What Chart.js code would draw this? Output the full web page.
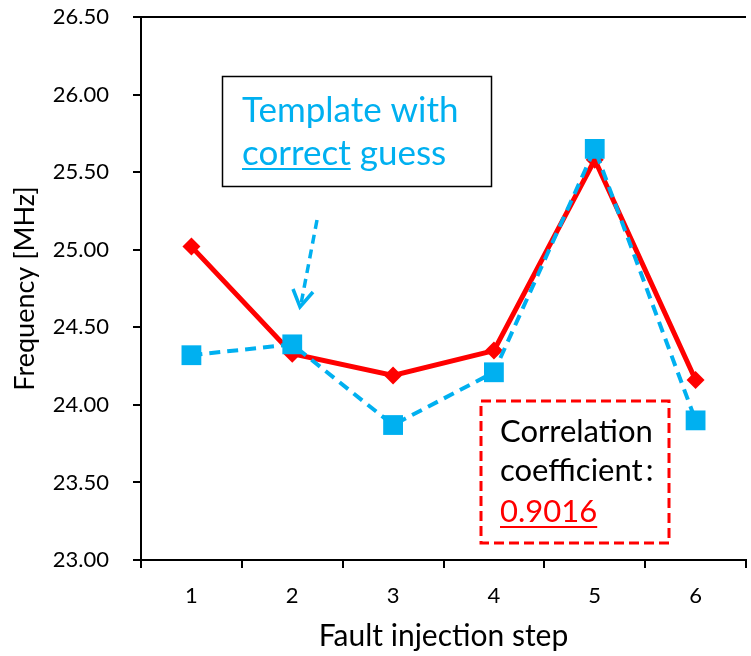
<!DOCTYPE html>
<html lang="en">
<head>
  <meta charset="UTF-8">
  <title>Fault injection frequency</title>
  <script src="https://cdn.jsdelivr.net/npm/chart.js"></script>
  <style>
    html, body { margin: 0; padding: 0; background: #fff; overflow: hidden; }
  </style>
</head>
<body>
  <canvas id="chart" width="760" height="656"></canvas>

  <script>
    const steps = ['1', '2', '3', '4', '5', '6'];
    const measured = [25.02, 24.33, 24.19, 24.35, 25.58, 24.16];
    const template = [24.32, 24.39, 23.87, 24.21, 25.65, 23.90];
    const yTicks = [23.0, 23.5, 24.0, 24.5, 25.0, 25.5, 26.0, 26.5];

    const RED = '#ff0000';
    const BLUE = '#00b0f0';
    const FONT = 'Lato, "Open Sans", sans-serif';

    // boxes, arrow and top frame line
    const notes = {
      id: 'notes',
      afterDraw(c) {
        const ctx = c.ctx;
        const a = c.chartArea;
        ctx.save();

        ctx.strokeStyle = '#000';
        ctx.lineWidth = 2;
        ctx.beginPath();
        ctx.moveTo(a.left, a.top);
        ctx.lineTo(a.right, a.top);
        ctx.stroke();

        // template box
        ctx.lineWidth = 1.5;
        ctx.strokeRect(222.5, 76.5, 269, 110);
        ctx.fillStyle = BLUE;
        ctx.font = '35px ' + FONT;
        ctx.textBaseline = 'alphabetic';
        ctx.fillText('Template with', 242, 122);
        ctx.fillText('correct', 242, 165);
        const cw = ctx.measureText('correct').width;
        ctx.fillText(' guess', 242 + cw, 165);
        ctx.fillRect(242, 168, cw, 2);

        // arrow
        ctx.strokeStyle = BLUE;
        ctx.lineWidth = 3.5;
        ctx.setLineDash([9, 6]);
        ctx.beginPath();
        ctx.moveTo(317, 220);
        ctx.lineTo(301, 304);
        ctx.stroke();
        ctx.setLineDash([]);
        ctx.beginPath();
        ctx.moveTo(293, 289);
        ctx.lineTo(300, 307);
        ctx.lineTo(313, 292);
        ctx.stroke();

        // correlation box
        ctx.strokeStyle = RED;
        ctx.lineWidth = 3;
        ctx.setLineDash([10, 5]);
        ctx.strokeRect(481, 401, 188, 142);
        ctx.setLineDash([]);
        ctx.fillStyle = '#000';
        ctx.font = '31px ' + FONT;
        ctx.fillText('Correlation', 500, 442);
        ctx.fillText('coefficient', 500, 481);
        ctx.fillText(':', 500 + ctx.measureText('coefficient').width + 3, 481);
        ctx.fillStyle = RED;
        ctx.fillText('0.9016', 500, 522);
        const vw = ctx.measureText('0.9016').width;
        ctx.fillRect(500, 526, vw, 2);

        ctx.restore();
      }
    };

    new Chart(document.getElementById('chart'), {
      type: 'line',
      data: {
        labels: steps,
        datasets: [
          {
            label: 'Measured',
            data: measured,
            borderColor: RED,
            backgroundColor: RED,
            borderWidth: 5,
            pointStyle: 'rectRot',
            pointRadius: 9,
            pointBorderWidth: 0,
            tension: 0,
            order: 1
          },
          {
            label: 'Template',
            data: template,
            borderColor: BLUE,
            backgroundColor: BLUE,
            borderWidth: 4,
            borderDash: [11, 7],
            pointStyle: 'rect',
            pointRadius: 14,
            pointBorderWidth: 0,
            tension: 0,
            order: 0
          }
        ]
      },
      options: {
        responsive: false,
        animation: false,
        layout: { padding: { top: 17, right: 1, left: 0, bottom: 0 } },
        plugins: { legend: { display: false }, tooltip: { enabled: false } },
        scales: {
          x: {
            offset: true,
            grid: { offset: true, drawOnChartArea: false, tickLength: 8, color: '#000', lineWidth: 2 },
            border: { color: '#000', width: 2 },
            ticks: { color: '#000', font: { family: FONT, size: 22 }, padding: 15 },
            title: { display: true, text: 'Fault injection step', color: '#000', font: { family: FONT, size: 30 }, padding: { top: 0, bottom: 2 } },
            afterFit: s => { s.height = 96; s.paddingLeft = 0; s.paddingRight = 0; }
          },
          y: {
            min: 23,
            max: 26.5,
            afterBuildTicks: s => { s.ticks = yTicks.map(v => ({ value: v })); },
            grid: { drawOnChartArea: false, tickLength: 8, color: '#000', lineWidth: 2 },
            border: { color: '#000', width: 2 },
            ticks: { color: '#000', font: { family: FONT, size: 22 }, padding: 24, callback: v => v.toFixed(2) },
            title: { display: true, text: 'Frequency [MHz]', color: '#000', font: { family: FONT, size: 27 }, padding: { top: 9, bottom: 0 } },
            afterFit: s => { s.width = 141; s.paddingTop = 0; s.paddingBottom = 0; }
          }
        }
      },
      plugins: [notes]
    });
  </script>
</body>
</html>
